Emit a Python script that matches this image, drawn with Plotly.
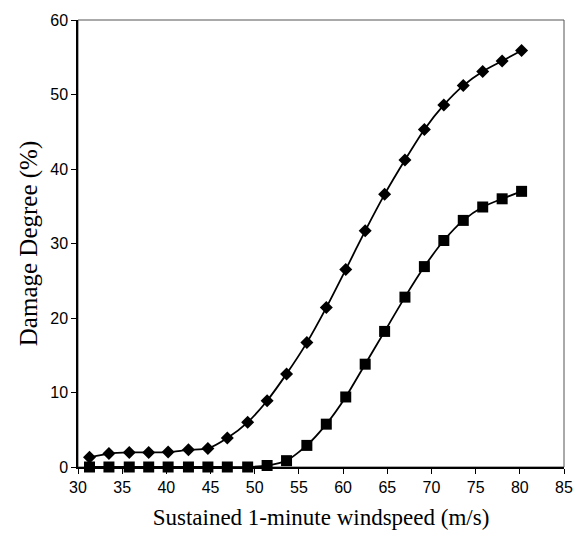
import plotly.graph_objects as go

# Windspeed (m/s) at each plotted point
windspeed = [31.3, 33.5, 35.8, 38.0, 40.2, 42.5, 44.7, 46.9, 49.2, 51.4, 53.6, 55.9,
             58.1, 60.3, 62.5, 64.7, 67.0, 69.2, 71.4, 73.6, 75.8, 78.0, 80.2]

# Damage degree (%) – diamond series
damage_diamond = [1.3, 1.8, 1.95, 1.95, 2.0, 2.3, 2.5, 3.9, 6.0, 8.9, 12.5, 16.7,
                  21.4, 26.5, 31.7, 36.6, 41.2, 45.3, 48.6, 51.2, 53.1, 54.5, 55.9]

# Damage degree (%) – square series
damage_square = [0.0, 0.0, 0.0, 0.0, 0.0, 0.0, 0.0, 0.0, 0.0, 0.2, 0.85, 2.9,
                 5.75, 9.4, 13.8, 18.2, 22.8, 26.9, 30.4, 33.1, 34.9, 36.0, 37.0]

x_ticks = [30, 35, 40, 45, 50, 55, 60, 65, 70, 75, 80, 85]
y_ticks = [0, 10, 20, 30, 40, 50, 60]

fig = go.Figure()
fig.add_trace(go.Scatter(
    x=windspeed, y=damage_square, mode="lines+markers",
    line=dict(color="black", width=1.8, shape="spline", smoothing=0.6),
    marker=dict(symbol="square", size=11, color="black"),
    showlegend=False, cliponaxis=False))
fig.add_trace(go.Scatter(
    x=windspeed, y=damage_diamond, mode="lines+markers",
    line=dict(color="black", width=1.8, shape="spline", smoothing=0.6),
    marker=dict(symbol="diamond", size=10, color="black"),
    showlegend=False, cliponaxis=False))

tick_font = dict(family="Liberation Sans, Arial, sans-serif", size=16, color="black")
xtitle_font = dict(family="Liberation Serif, Times New Roman, serif", size=23, color="black")
ytitle_font = dict(family="Liberation Serif, Times New Roman, serif", size=25, color="black")

fig.update_layout(
    width=585, height=538,
    margin=dict(l=78, r=16, t=20, b=69),
    paper_bgcolor="white", plot_bgcolor="white",
    xaxis=dict(range=[30, 85], tickvals=x_ticks, ticktext=[str(v) for v in x_ticks],
               showgrid=False, zeroline=False, showline=True, linecolor="black",
               linewidth=1.5, ticks="outside", ticklen=5, tickcolor="black",
               tickfont=tick_font,
               title=dict(text="Sustained 1-minute windspeed (m/s)", font=xtitle_font, standoff=14)),
    yaxis=dict(range=[0, 60], tickvals=y_ticks, ticktext=[str(v) for v in y_ticks],
               showgrid=False, zeroline=False, showline=True, linecolor="black",
               linewidth=1.5, ticks="outside", ticklen=5, tickcolor="black",
               tickfont=tick_font,
               title=dict(text="Damage Degree (%)", font=ytitle_font, standoff=6)),
    shapes=[dict(type="rect", xref="paper", yref="paper", x0=0, x1=1, y0=0, y1=1,
                 line=dict(color="#555555", width=1), layer="below")],
)

fig.write_html("out.html", config={"displayModeBar": False},
               post_script="document.body.style.margin='0';")
